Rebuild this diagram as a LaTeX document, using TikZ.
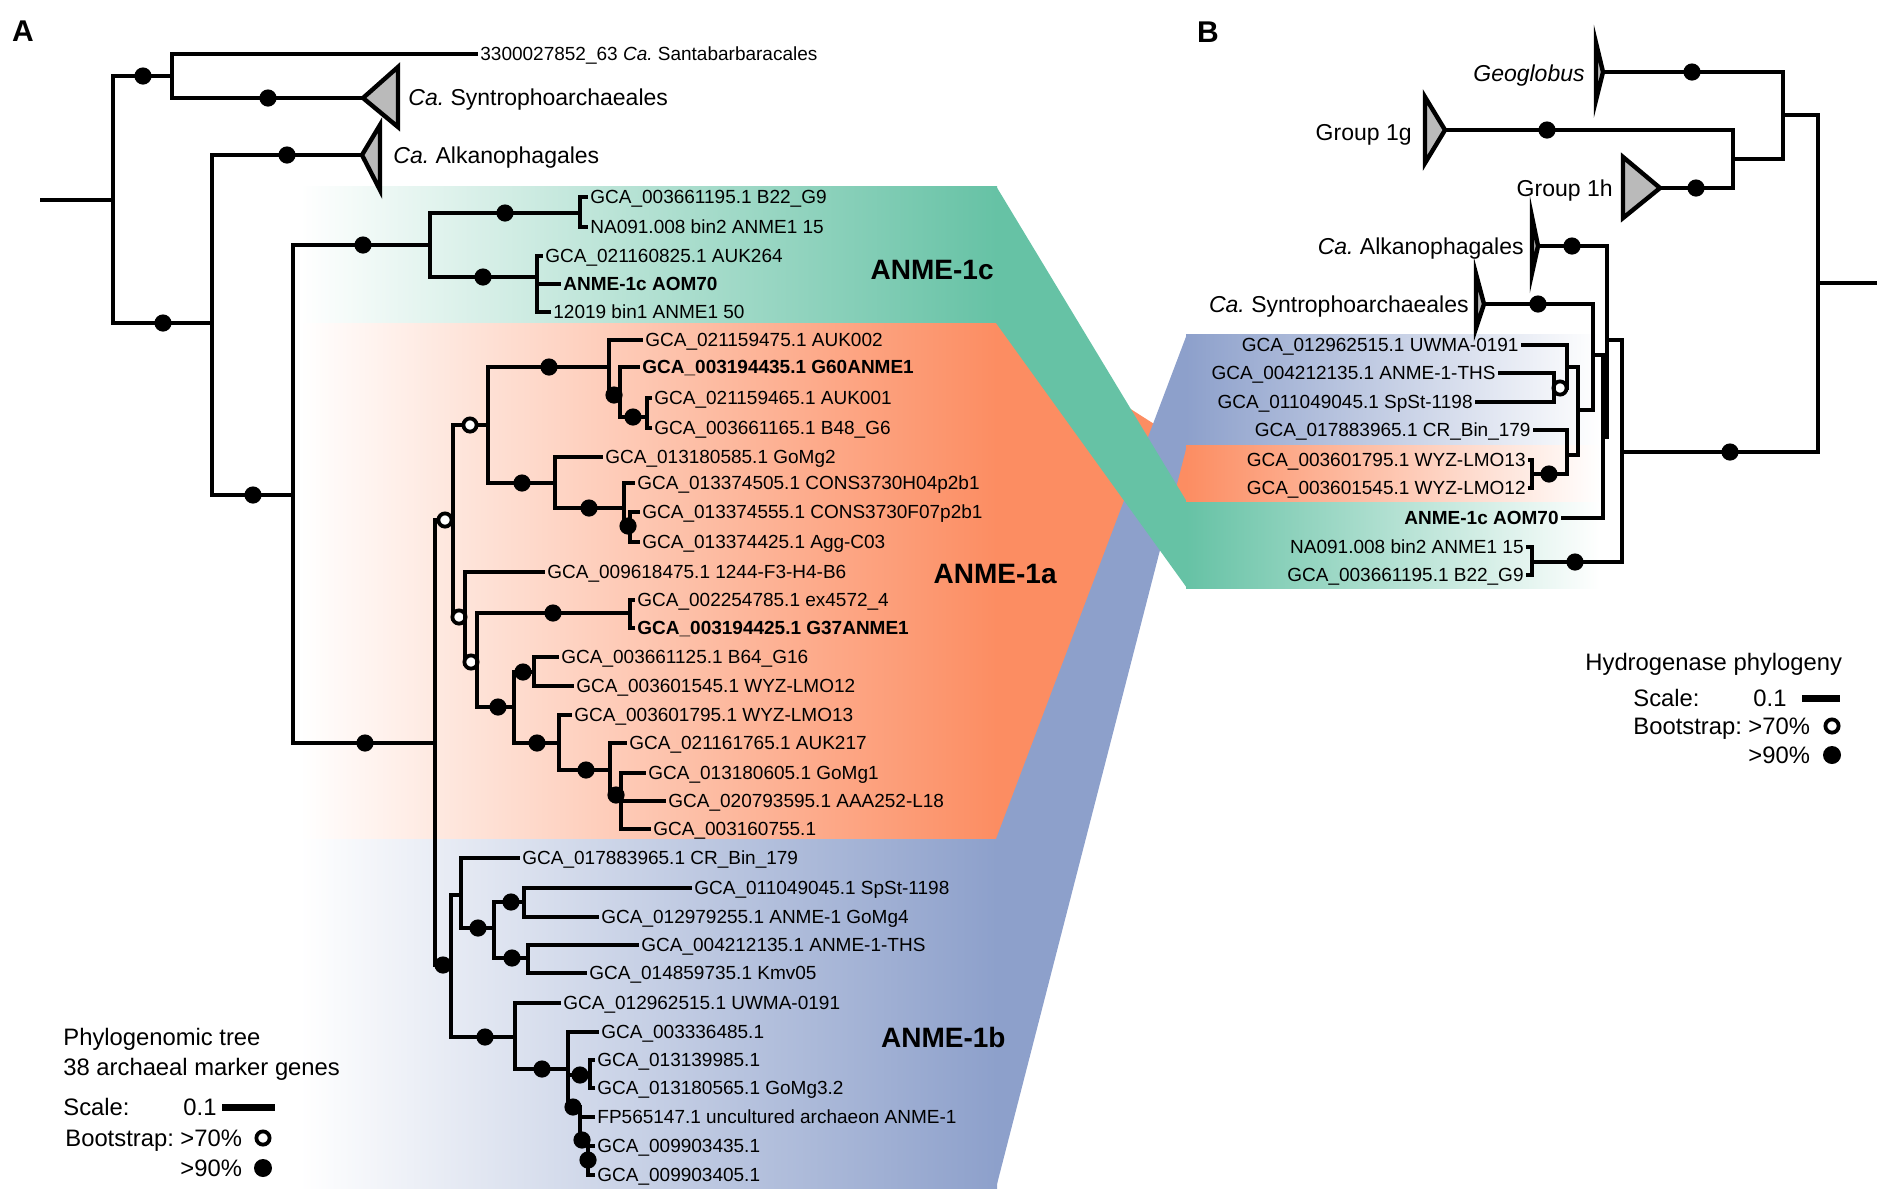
\documentclass[tikz,border=0pt]{standalone}
\usepackage{fontspec}
\setmainfont{Liberation Sans}
\frenchspacing
\definecolor{sgreen}{HTML}{66C2A5}
\definecolor{sorange}{HTML}{FC8D62}
\definecolor{sblue}{HTML}{8DA0CB}
\definecolor{tgray}{HTML}{BABABA}
\tikzset{
  br/.style={line width=2.2pt, line cap=rect},
  tri/.style={draw=black, fill=tgray, line width=2.2pt, line join=miter},
  lf/.style={font=\fontsize{9.5pt}{11pt}\selectfont, text height=6.8pt, text depth=0pt, inner ysep=0pt, inner xsep=2pt},
  gf/.style={font=\fontsize{11.5pt}{13pt}\selectfont, text height=8.2pt, text depth=0pt, inner ysep=0pt, inner xsep=0pt},
  legf/.style={font=\fontsize{11.9pt}{13pt}\selectfont, text height=8.5pt, text depth=0pt, inner sep=0pt, anchor=west},
  cf/.style={font=\fontsize{14pt}{16pt}\selectfont\bfseries, text height=10pt, text depth=0pt, inner sep=0pt},
  lleaf/.style={lf, anchor=west, xshift=-2pt},
  rleaf/.style={lf, anchor=east, xshift=2pt},
}
\newcommand\mydot[2]{\fill (#1,#2) circle[radius=4.3pt];}
\newcommand\myodot[2]{\draw[line width=1.9pt, fill=white] (#1,#2) circle[radius=3.3pt];}
\newcommand\LL[5]{\node[lleaf] (#1) at (#3,#4) {#5}; \draw[br] (#2,#4) -- (#1.west);}
\newcommand\RL[5]{\node[rleaf] (#1) at (#3,#4) {#5}; \draw[br] (#1.east) -- (#2,#4);}
\begin{document}
\begin{tikzpicture}[x=0.5pt, y=-0.5pt]
\useasboundingbox (0,0) rectangle (1883,1196);
% ---------- backgrounds ----------
\shade[left color=white, right color=sgreen] (300,186) rectangle (997,323);
\shade[left color=white, right color=sorange] (300,323) rectangle (997,839);
\shade[left color=white, right color=sblue] (300,839) rectangle (997,1188);
\fill[sorange] (996,323) -- (1187,445) -- (1187,502) -- (996,839) -- cycle;
\fill[sblue] (996,839) -- (1187,334) -- (1187,445) -- (996,1188) -- cycle;
\fill[sgreen] (996,186) -- (1187,502) -- (1187,588) -- (996,323) -- cycle;
\shade[left color=sblue, right color=white] (1186,334) rectangle (1600,445);
\shade[left color=sorange, right color=white] (1186,445) rectangle (1600,502);
\shade[left color=sgreen, right color=white] (1186,502) rectangle (1600,588);
% ---------- panel letters ----------
\node[font=\fontsize{15pt}{17pt}\selectfont\bfseries, inner sep=0pt] (pA) at (23,31) {A};
\node[font=\fontsize{15pt}{17pt}\selectfont\bfseries, inner sep=0pt] (pB) at (1208,32) {B};
% ---------- left tree ----------
\draw[br] (42,200) -- (113,200);
\draw[br] (113,76) -- (113,323);
\draw[br] (113,76) -- (172,76); \mydot{143}{76}
\draw[br] (172,54) -- (172,98);
\LL{santa}{172}{480}{54}{3300027852\_63 \textit{Ca.} Santabarbaracales}
\draw[br] (172,98) -- (363,98); \mydot{268}{98}
\draw[tri] (363,98) -- (398,67) -- (398,127) -- cycle;
\node[gf, anchor=west] (synL) at (408,97) {\textit{Ca.} Syntrophoarchaeales};
\draw[br] (113,323) -- (212,323); \mydot{163}{323}
\draw[br] (212,155) -- (212,495);
\draw[br] (212,155) -- (362,155); \mydot{287}{155}
\draw[tri] (362,155) -- (380,125) -- (380,190) -- cycle;
\node[gf, anchor=west] (alkL) at (393,155) {\textit{Ca.} Alkanophagales};
\draw[br] (212,495) -- (293,495); \mydot{253}{495}
\draw[br] (293,245) -- (293,743);
\draw[br] (293,245) -- (430,245); \mydot{363}{245}
% ANME-1c
\draw[br] (430,213) -- (430,277);
\draw[br] (430,213) -- (580,213); \mydot{505}{213}
\draw[br] (580,197) -- (580,227);
\LL{c1}{580}{590}{197}{GCA\_003661195.1 B22\_G9}
\LL{c2}{580}{590}{227}{NA091.008 bin2 ANME1 15}
\draw[br] (430,277) -- (537,277); \mydot{483}{277}
\draw[br] (537,256) -- (537,312);
\LL{c3}{537}{545}{256}{GCA\_021160825.1 AUK264}
\LL{c4}{537}{563}{284}{\textbf{ANME-1c AOM70}}
\LL{c5}{537}{553}{312}{12019 bin1 ANME1 50}
% ANME-1a / 1b
\draw[br] (293,743) -- (435,743); \mydot{365}{743}
\draw[br] (435,520) -- (435,965);
\draw[br] (435,520) -- (453,520); \myodot{445}{520}
\draw[br] (453,425) -- (453,617);
\draw[br] (453,425) -- (488,425); \myodot{470}{425}
\draw[br] (488,367) -- (488,483);
\draw[br] (488,367) -- (609,367); \mydot{549}{367}
\draw[br] (609,340) -- (609,395);
\LL{a1}{609}{645}{340}{GCA\_021159475.1 AUK002}
\draw[br] (609,395) -- (620,395); \mydot{614}{395}
\draw[br] (620,367) -- (620,417);
\LL{a2}{620}{642}{367}{\textbf{GCA\_003194435.1 G60ANME1}}
\draw[br] (620,417) -- (647,417); \mydot{633}{417}
\draw[br] (647,398) -- (647,428);
\LL{a3}{647}{654}{398}{GCA\_021159465.1 AUK001}
\LL{a4}{647}{654}{428}{GCA\_003661165.1 B48\_G6}
\draw[br] (488,483) -- (555,483); \mydot{522}{483}
\draw[br] (555,457) -- (555,508);
\LL{a5}{555}{605}{457}{GCA\_013180585.1 GoMg2}
\draw[br] (555,508) -- (624,508); \mydot{589}{508}
\draw[br] (624,483) -- (624,522);
\LL{a6}{624}{637}{483}{GCA\_013374505.1 CONS3730H04p2b1}
\draw[br] (624,522) -- (630,522); \mydot{628}{526}
\draw[br] (630,512) -- (630,542);
\LL{a7}{630}{642}{512}{GCA\_013374555.1 CONS3730F07p2b1}
\LL{a8}{630}{642}{542}{GCA\_013374425.1 Agg-C03}
\draw[br] (453,617) -- (465,617); \myodot{459}{617}
\draw[br] (465,572) -- (465,662);
\LL{a9}{465}{547}{572}{GCA\_009618475.1 1244-F3-H4-B6}
\draw[br] (465,662) -- (477,662); \myodot{471}{662}
\draw[br] (477,613) -- (477,707);
\draw[br] (477,613) -- (630,613); \mydot{553}{613}
\draw[br] (630,600) -- (630,628);
\LL{a10}{630}{637}{600}{GCA\_002254785.1 ex4572\_4}
\LL{a11}{630}{637}{628}{\textbf{GCA\_003194425.1 G37ANME1}}
\draw[br] (477,707) -- (514,707); \mydot{498}{707}
\draw[br] (514,672) -- (514,743);
\draw[br] (514,672) -- (534,672); \mydot{523}{672}
\draw[br] (534,657) -- (534,686);
\LL{a12}{534}{561}{657}{GCA\_003661125.1 B64\_G16}
\LL{a13}{534}{576}{686}{GCA\_003601545.1 WYZ-LMO12}
\draw[br] (514,743) -- (559,743); \mydot{537}{743}
\draw[br] (559,715) -- (559,770);
\LL{a14}{559}{574}{715}{GCA\_003601795.1 WYZ-LMO13}
\draw[br] (559,770) -- (610,770); \mydot{586}{770}
\draw[br] (610,743) -- (610,795);
\LL{a15}{610}{629}{743}{GCA\_021161765.1 AUK217}
\draw[br] (610,795) -- (621,795); \mydot{616}{795}
\draw[br] (621,773) -- (621,829);
\LL{a16}{621}{648}{773}{GCA\_013180605.1 GoMg1}
\LL{a17}{621}{668}{801}{GCA\_020793595.1 AAA252-L18}
\LL{a18}{621}{653}{829}{GCA\_003160755.1}
% ANME-1b
\draw[br] (435,965) -- (451,965); \mydot{443}{965}
\draw[br] (451,895) -- (451,1037);
\draw[br] (451,895) -- (461,895);
\draw[br] (461,858) -- (461,928);
\LL{b1}{461}{522}{858}{GCA\_017883965.1 CR\_Bin\_179}
\draw[br] (461,928) -- (494,928); \mydot{478}{928}
\draw[br] (494,902) -- (494,958);
\draw[br] (494,902) -- (524,902); \mydot{511}{902}
\draw[br] (524,888) -- (524,917);
\LL{b2}{524}{694}{888}{GCA\_011049045.1 SpSt-1198}
\LL{b3}{524}{601}{917}{GCA\_012979255.1 ANME-1 GoMg4}
\draw[br] (494,958) -- (528,958); \mydot{512}{958}
\draw[br] (528,945) -- (528,973);
\LL{b4}{528}{641}{945}{GCA\_004212135.1 ANME-1-THS}
\LL{b5}{528}{589}{973}{GCA\_014859735.1 Kmv05}
\draw[br] (451,1037) -- (515,1037); \mydot{485}{1037}
\draw[br] (515,1003) -- (515,1069);
\LL{b6}{515}{563}{1003}{GCA\_012962515.1 UWMA-0191}
\draw[br] (515,1069) -- (568,1069); \mydot{542}{1069}
\draw[br] (568,1032) -- (568,1107);
\LL{b7}{568}{601}{1032}{GCA\_003336485.1}
\draw[br] (568,1075) -- (590,1075); \mydot{580}{1075}
\draw[br] (590,1060) -- (590,1088);
\LL{b8}{590}{597}{1060}{GCA\_013139985.1}
\LL{b9}{590}{597}{1088}{GCA\_013180565.1 GoMg3.2}
\draw[br] (568,1107) -- (580,1107); \mydot{573}{1107}
\draw[br] (580,1107) -- (580,1140);
\LL{b10}{580}{597}{1117}{FP565147.1 uncultured archaeon ANME-1}
\draw[br] (580,1140) -- (588,1140); \mydot{582}{1140}
\draw[br] (588,1140) -- (588,1175); \mydot{588}{1160}
\LL{b11}{588}{597}{1146}{GCA\_009903435.1}
\LL{b12}{588}{597}{1175}{GCA\_009903405.1}
% clade labels
\node[cf, anchor=east] (k1c) at (994,269) {ANME-1c};
\node[cf, anchor=east] (k1a) at (1057,573) {ANME-1a};
\node[cf, anchor=east] (k1b) at (1006,1037) {ANME-1b};
% left legend
\node[legf] (lg1) at (63,1037) {Phylogenomic tree};
\node[legf] (lg2) at (63,1067) {38 archaeal marker genes};
\node[legf] (lg3) at (63,1107) {Scale:};
\node[legf] (lg4) at (183,1107) {0.1};
\coordinate (sb1) at (222,1107); \coordinate (sb2) at (275,1107);
\draw[line width=3.5pt] (sb1) -- (sb2);
\node[legf] (lg5) at (65,1138) {Bootstrap: >70\%};
\myodot{263}{1138}
\node[legf] (lg6) at (180,1168) {>90\%};
\fill (263,1168) circle[radius=4.5pt];
% ---------- right tree ----------
\draw[tri] (1603,72) -- (1596,43) -- (1596,100) -- cycle;
\node[gf, anchor=east] (geo) at (1585,73) {\textit{Geoglobus}};
\draw[br] (1603,72) -- (1783,72); \mydot{1692}{72}
\draw[br] (1783,72) -- (1783,159);
\draw[br] (1783,115) -- (1818,115);
\draw[br] (1818,115) -- (1818,452);
\draw[br] (1818,283) -- (1875,283);
\draw[tri] (1445,130) -- (1425,97) -- (1425,163) -- cycle;
\node[gf, anchor=east] (g1g) at (1412,132) {Group 1g};
\draw[br] (1445,130) -- (1733,130); \mydot{1547}{130}
\draw[br] (1733,130) -- (1733,188);
\draw[br] (1733,159) -- (1783,159);
\draw[tri] (1660,188) -- (1623,157) -- (1623,218) -- cycle;
\node[gf, anchor=east] (g1h) at (1613,188) {Group 1h};
\draw[br] (1660,188) -- (1733,188); \mydot{1696}{188}
\draw[br] (1622,452) -- (1818,452); \mydot{1730}{452}
\draw[br] (1622,340) -- (1622,562);
\draw[br] (1607,340) -- (1622,340);
\draw[br] (1607,246) -- (1607,437);
\draw[tri] (1538,246) -- (1532,217) -- (1532,273) -- cycle;
\node[gf, anchor=east] (alkR) at (1524,246) {\textit{Ca.} Alkanophagales};
\draw[br] (1538,246) -- (1607,246); \mydot{1572}{246}
\draw[br] (1603,437) -- (1607,437);
\draw[br] (1603,355) -- (1603,518);
\RL{r9}{1603}{1559}{518}{\textbf{ANME-1c AOM70}}
\draw[br] (1593,355) -- (1603,355);
\draw[br] (1593,304) -- (1593,410);
\draw[tri] (1484,304) -- (1476,274) -- (1476,328) -- cycle;
\node[gf, anchor=east] (synR) at (1469,304) {\textit{Ca.} Syntrophoarchaeales};
\draw[br] (1484,304) -- (1593,304); \mydot{1538}{304}
\draw[br] (1578,410) -- (1593,410);
\draw[br] (1578,367) -- (1578,455);
\draw[br] (1567,367) -- (1578,367);
\draw[br] (1567,345) -- (1567,388);
\RL{r1}{1567}{1519}{345}{GCA\_012962515.1 UWMA-0191}
\draw[br] (1554,388) -- (1567,388); \myodot{1560}{388}
\draw[br] (1554,373) -- (1554,402);
\RL{r2}{1554}{1496}{373}{GCA\_004212135.1 ANME-1-THS}
\RL{r3}{1554}{1473}{402}{GCA\_011049045.1 SpSt-1198}
\draw[br] (1567,455) -- (1578,455);
\draw[br] (1567,430) -- (1567,474);
\RL{r4}{1567}{1531}{430}{GCA\_017883965.1 CR\_Bin\_179}
\draw[br] (1532,474) -- (1567,474); \mydot{1549}{474}
\draw[br] (1532,460) -- (1532,488);
\RL{r5}{1532}{1526}{460}{GCA\_003601795.1 WYZ-LMO13}
\RL{r6}{1532}{1526}{488}{GCA\_003601545.1 WYZ-LMO12}
\draw[br] (1532,562) -- (1622,562); \mydot{1575}{562}
\draw[br] (1532,547) -- (1532,575);
\RL{r7}{1532}{1524}{547}{NA091.008 bin2 ANME1 15}
\RL{r8}{1532}{1524}{575}{GCA\_003661195.1 B22\_G9}
% right legend
\node[legf] (rg1) at (1585,662) {Hydrogenase phylogeny};
\node[legf] (rg2) at (1633,698) {Scale:};
\node[legf] (rg3) at (1753,698) {0.1};
\coordinate (rb1) at (1802,698); \coordinate (rb2) at (1840,698);
\draw[line width=3.5pt] (rb1) -- (rb2);
\node[legf] (rg4) at (1633,726) {Bootstrap: >70\%};
\myodot{1832}{726}
\node[legf] (rg5) at (1748,755) {>90\%};
\fill (1832,755) circle[radius=4.5pt];
\end{tikzpicture}
\end{document}
